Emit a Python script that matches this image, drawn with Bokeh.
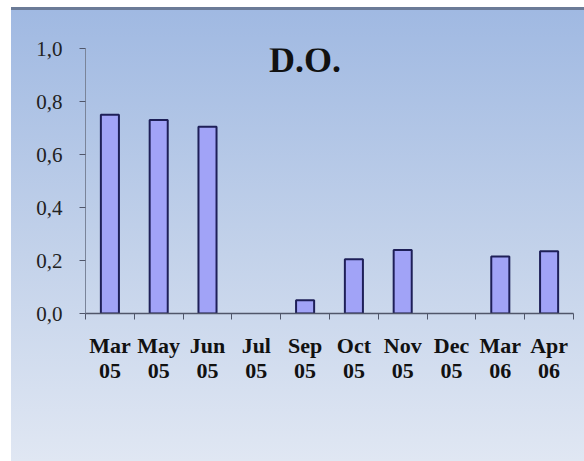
from bokeh.plotting import figure
from bokeh.models import Range1d, FixedTicker, LinearAxis, CustomJSTickFormatter, Label, ColumnDataSource
from bokeh.embed import file_html
from bokeh.resources import INLINE

categories = ["Mar 05", "May 05", "Jun 05", "Jul 05", "Sep 05",
              "Oct 05", "Nov 05", "Dec 05", "Mar 06", "Apr 06"]
values = [0.75, 0.73, 0.705, 0.0, 0.05, 0.205, 0.24, 0.0, 0.215, 0.235]
y_ticks = [0.0, 0.2, 0.4, 0.6, 0.8, 1.0]
title_text = "D.O."

labels = [c.replace(" ", "\n") for c in categories]
xs = [i + 0.5 for i in range(len(categories))]

p = figure(width=584, height=461, output_backend="svg", toolbar_location=None,
           x_range=Range1d(0, len(categories)), y_range=Range1d(0, 1.0),
           x_axis_type=None, y_axis_type=None,
           min_border_left=85, min_border_right=11, min_border_top=48, min_border_bottom=148)

p.border_fill_alpha = 0
p.background_fill_alpha = 0
p.outline_line_color = None
p.styles = {
    "background-image": "linear-gradient(to right, #ffffff 0px, #ffffff 11px, rgba(255,255,255,0) 11px), "
                        "linear-gradient(to bottom, #ffffff 0px, #ffffff 7px, #6b7b97 7px, #6b7b97 10px, "
                        "#a0b9e2 10px, #c3d2ea 55%, #e0e7f3 100%)"
}

# only months with a measured value get a bar
bx = [x for x, v in zip(xs, values) if v > 0]
bt = [v for v in values if v > 0]
src = ColumnDataSource(dict(x=bx, top=bt))
p.vbar(x="x", top="top", width=0.37, source=src,
       fill_color="#a1a3f7", line_color="#1e1f58", line_width=2)

# y axis
yax = LinearAxis(ticker=FixedTicker(ticks=y_ticks, minor_ticks=[]),
                 formatter=CustomJSTickFormatter(code="return tick.toFixed(1).replace('.', ',');"))
yax.axis_line_color = "#7a8499"
yax.major_tick_line_color = "#50566a"
yax.major_tick_out = 6
yax.major_tick_in = 0
yax.major_label_standoff = 17
yax.major_label_text_font = "Liberation Serif"
yax.major_label_text_font_size = "21px"
yax.major_label_text_color = "#222222"
p.add_layout(yax, "left")

# x axis
xax = LinearAxis(ticker=FixedTicker(ticks=xs, minor_ticks=list(range(len(categories) + 1))),
                 formatter=CustomJSTickFormatter(args=dict(labels=labels),
                                                 code="return labels[Math.floor(tick)];"))
xax.axis_line_color = "#50566a"
xax.axis_line_width = 1.5
xax.major_tick_out = 0
xax.major_tick_in = 0
xax.minor_tick_out = 6
xax.minor_tick_in = 0
xax.minor_tick_line_color = "#50566a"
xax.major_label_standoff = 13
xax.major_label_text_font = "Liberation Serif"
xax.major_label_text_font_style = "bold"
xax.major_label_text_font_size = "22px"
xax.major_label_text_color = "#111111"
xax.major_label_text_line_height = 1.0
p.add_layout(xax, "below")

p.xgrid.visible = False
p.ygrid.visible = False

title = Label(x=len(categories) / 2 - 0.5, y=0.955, text=title_text,
              text_align="center", text_baseline="alphabetic",
              text_font="Liberation Serif", text_font_style="bold",
              text_font_size="36px", text_color="#111111")
p.add_layout(title)

open("out.html", "w").write(file_html(p, INLINE))
